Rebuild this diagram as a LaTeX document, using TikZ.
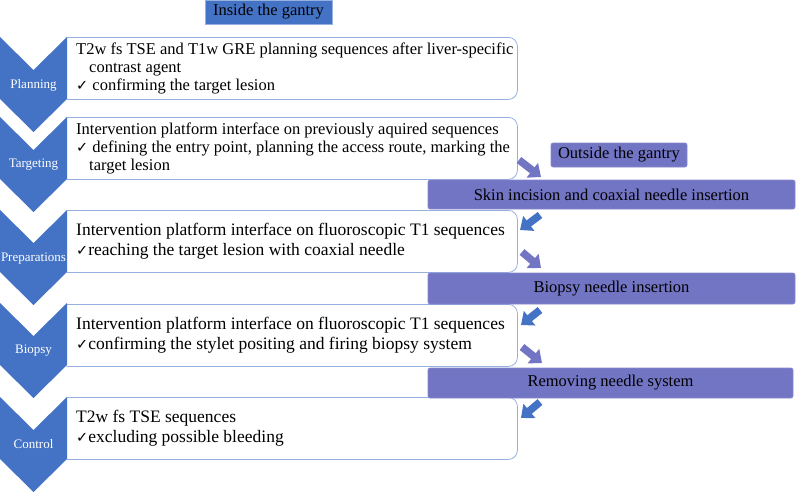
\documentclass[tikz,border=0pt]{standalone}
\usepackage{fontspec}
\setmainfont{Liberation Serif}
\newfontfamily\checkfont{DejaVu Sans}
\usepackage{tikz}
\usetikzlibrary{arrows.meta, positioning}

\definecolor{chevblue}{RGB}{68,114,196}
\definecolor{outpurple}{RGB}{114,116,196}
\definecolor{boxline}{RGB}{150,176,224}

\newcommand{\chkmark}{{\checkfont\fontsize{14.5}{14.5}\selectfont ✓}}

\begin{document}
\begin{tikzpicture}[x=1pt, y=-1pt,
  chevlabel/.style={text=white, font=\fontsize{13}{15}\selectfont, inner sep=0pt},
  textbox/.style={draw=boxline, line width=0.8pt, fill=white, rounded corners=9pt,
    minimum width=460pt, minimum height=62pt, anchor=north west, inner sep=0pt},
  smalltext/.style={anchor=west, align=left, inner sep=0pt, font=\fontsize{16.5}{18}\selectfont},
  bigtext/.style={anchor=west, align=left, inner sep=0pt, font=\fontsize{17.5}{20}\selectfont},
  titlebox/.style={fill=chevblue, draw=boxline, line width=0.6pt, inner sep=0pt,
    font=\fontsize{16.5}{18}\selectfont},
  outbox/.style={fill=outpurple, draw=outpurple!85!white, line width=0.6pt, rounded corners=2pt,
    inner sep=0pt, font=\fontsize{16.5}{18}\selectfont},
  bluearrow/.style={draw=chevblue, line width=7.5pt, -{Triangle[length=11pt,width=18pt]}},
  purparrow/.style={draw=outpurple, line width=7.5pt, -{Triangle[length=11pt,width=18pt]}}
]
\useasboundingbox (0,0) rectangle (796,493);

% text boxes
\begin{scope}
\clip (66.5,0) rectangle (796,493);
\node [textbox] (planbox) at (57,37) {};
\node [textbox] (tgtbox) at (57,117) {};
\node [textbox] (prepbox) at (57,210) {};
\node [textbox] (biopbox) at (57,304) {};
\node [textbox] (ctrlbox) at (57,397) {};
\end{scope}

% chevrons
\foreach \t in {37,117,210,303,397}
  \fill [chevblue] (0,\t) -- (33.5,\t+33) -- (67,\t) -- (67,\t+62) -- (33.5,\t+95) -- (0,\t+62) -- cycle;

\node [chevlabel] (plan) at (33.5,85) {Planning};
\node [chevlabel] (tgt) at (33.5,165) {Targeting};
\node [chevlabel] (prep) at (33.5,259) {Preparations};
\node [chevlabel] (biop) at (33.5,351) {Biopsy};
\node [chevlabel] (ctrl) at (33.5,444) {Control};

% box texts
\node [smalltext] (plantext) at ([xshift=19pt]planbox.west)
  {T2w fs TSE and T1w GRE planning sequences after liver-specific\\
   \hspace*{13pt}contrast agent\\
   \chkmark\ confirming the target lesion};
\node [smalltext] (tgttext) at ([xshift=19pt]tgtbox.west)
  {Intervention platform interface on previously aquired sequences\\
   \chkmark\ defining the entry point, planning the access route, marking the\\
   \hspace*{13pt}target lesion};
\node [bigtext] (preptext) at ([xshift=19pt]prepbox.west)
  {Intervention platform interface on fluoroscopic T1 sequences\\
   \chkmark reaching the target lesion with coaxial needle};
\node [bigtext] (bioptext) at ([xshift=19pt]biopbox.west)
  {Intervention platform interface on fluoroscopic T1 sequences\\
   \chkmark confirming the stylet positing and firing biopsy system};
\node [bigtext] (ctrltext) at ([xshift=19pt]ctrlbox.west)
  {T2w fs TSE sequences\\
   \chkmark excluding possible bleeding};

% headings and outside steps
\node [titlebox, minimum width=127pt, minimum height=24pt] (inside) at (268.5,12) {Inside the gantry};
\node [outbox, minimum width=136pt, minimum height=24pt] (outside) at (619,155) {Outside the gantry};
\node [outbox, minimum width=367pt, minimum height=29pt] (skin) at (611.5,194.5) {Skin incision and coaxial needle insertion};
\node [outbox, minimum width=367pt, minimum height=31pt] (needle) at (611.5,288.5) {Biopsy needle insertion};
\node [outbox, minimum width=365pt, minimum height=30pt] (removing) at (610.5,383) {Removing needle system};

% arrows
\coordinate (a1s) at (519,160);
\coordinate (a1e) at (541,177);
\coordinate (a2s) at (540,215);
\coordinate (a2e) at (520,230);
\coordinate (a3s) at (522,252);
\coordinate (a3e) at (541,268);
\coordinate (a4s) at (540,310);
\coordinate (a4e) at (521,325);
\coordinate (a5s) at (522,347);
\coordinate (a5e) at (542,363);
\coordinate (a6s) at (540,402);
\coordinate (a6e) at (521,418);

\draw [purparrow] (a1s) -- (a1e);
\draw [bluearrow] (a2s) -- (a2e);
\draw [purparrow] (a3s) -- (a3e);
\draw [bluearrow] (a4s) -- (a4e);
\draw [purparrow] (a5s) -- (a5e);
\draw [bluearrow] (a6s) -- (a6e);

\end{tikzpicture}
\end{document}
